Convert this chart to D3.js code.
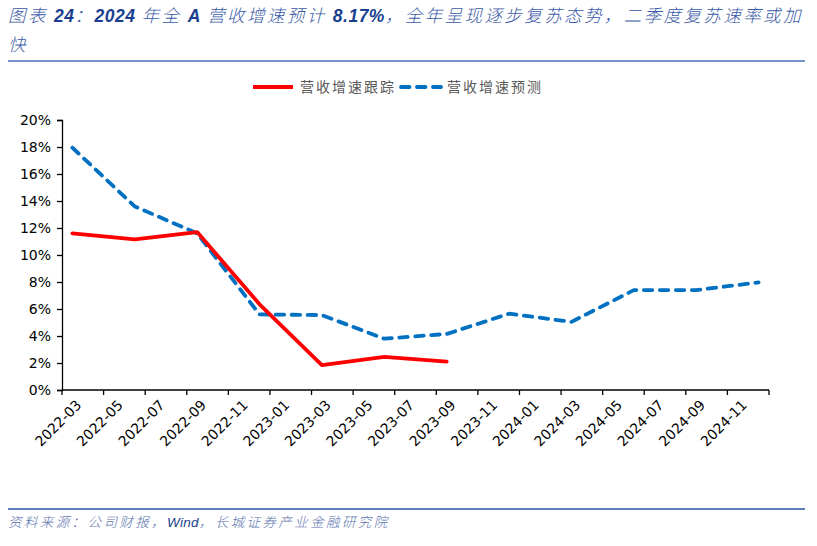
<!DOCTYPE html>
<html><head><meta charset="utf-8">
<script src="https://cdn.jsdelivr.net/npm/d3@7/dist/d3.min.js"></script>
<style>body{margin:0;background:#fff}svg{display:block}</style>
</head><body><svg id="c" width="817" height="546"></svg>
<script>
// months on the axis (date axis, monthly base unit)
const months = [];
for (let y = 2022; y <= 2024; y++) for (let m = 1; m <= 12; m++) {
  if (y === 2022 && m < 3) continue;
  months.push(y + "-" + String(m).padStart(2, "0"));
}
const tickLabels = ["2022-03","2022-05","2022-07","2022-09","2022-11","2023-01","2023-03","2023-05","2023-07","2023-09","2023-11","2024-01","2024-03","2024-05","2024-07","2024-09","2024-11"];
const trackDates = ["2022-03","2022-06","2022-09","2022-12","2023-03","2023-06","2023-09"];
const trackValues = [11.6, 11.15, 11.7, 6.35, 1.85, 2.45, 2.1];
const fcDates = ["2022-03","2022-06","2022-09","2022-12","2023-03","2023-06","2023-09","2023-12","2024-03","2024-06","2024-09","2024-12"];
const fcValues = [17.95, 13.6, 11.6, 5.6, 5.55, 3.8, 4.15, 5.65, 5.05, 7.4, 7.4, 7.97];
const yTicks = [0,2,4,6,8,10,12,14,16,18,20];
const seriesNames = ["营收增速跟踪", "营收增速预测"];

const svg = d3.select("#c");
const L = 62, R = 769, T = 120, B = 390;
const x = d3.scaleBand().domain(months).range([L, R]).padding(0);
const y = d3.scaleLinear().domain([0, 20]).range([B, T]);
const cx = d => x(d) + x.bandwidth() / 2;

// Title
const title = svg.append("text").attr("x", 8).attr("y", 22)
  .attr("font-family", "'Noto Sans CJK SC', sans-serif").attr("font-size", 17.5)
  .attr("font-style", "italic").attr("font-weight", 300).attr("fill", "#3a5aa6")
  .attr("letter-spacing", 2.4);
const parts = [["图表 ",0],["24",1],["：",0],["2024",1],[" 年全 ",0],["A",1],[" 营收增速预计 ",0],["8.17%",1],["，全年呈现逐步复苏态势，二季度复苏速率或加",0]];
parts.forEach(([t, b]) => {
  const ts = title.append("tspan").text(t);
  if (b) ts.attr("font-family", "'Liberation Sans', Arial, sans-serif").attr("font-weight", "bold").attr("fill", "#1a3f8f").attr("letter-spacing", 0.5);
});
svg.append("text").attr("x", 8).attr("y", 51)
  .attr("font-family", "'Noto Sans CJK SC', sans-serif").attr("font-size", 17.5)
  .attr("font-style", "italic").attr("font-weight", 300).attr("fill", "#3a5aa6").text("快");
svg.append("line").attr("x1", 8).attr("x2", 805).attr("y1", 61).attr("y2", 61)
  .attr("stroke", "#4a6fb5").attr("stroke-width", 1.5);

// Footer
svg.append("line").attr("x1", 8).attr("x2", 805).attr("y1", 509).attr("y2", 509)
  .attr("stroke", "#2a529e").attr("stroke-width", 1.5);
const foot = svg.append("text").attr("x", 8).attr("y", 527)
  .attr("font-family", "'Noto Sans CJK SC', sans-serif").attr("font-size", 13.5)
  .attr("font-style", "italic").attr("font-weight", 300).attr("fill", "#5a74ad").attr("letter-spacing", 2.4);
foot.append("tspan").text("资料来源：公司财报，");
foot.append("tspan").text("Wind").attr("font-family", "'Liberation Sans', Arial, sans-serif").attr("font-weight", "normal").attr("fill", "#1a3f8f").attr("letter-spacing", 0.3);
foot.append("tspan").text("，长城证券产业金融研究院");

// Axes
const yAxis = d3.axisLeft(y).tickValues(yTicks).tickFormat(d => d + "%").tickSize(5).tickPadding(6);
const gy = svg.append("g").attr("transform", `translate(${L},0)`).call(yAxis);
gy.select(".domain").attr("stroke", "#000").attr("stroke-width", 1.3);
gy.selectAll(".tick line").attr("stroke", "#000").attr("stroke-width", 1.3);
gy.selectAll("text").attr("font-family", "'DejaVu Sans', Verdana, sans-serif").attr("font-size", 14).attr("fill", "#000");

// x axis: ticks at every other month boundary, plus end
const tickPos = tickLabels.map(d => x(d)).concat([R]);
const gx = svg.append("g");
gx.append("line").attr("x1", L).attr("x2", R).attr("y1", B).attr("y2", B).attr("stroke", "#000").attr("stroke-width", 1.3);
gx.selectAll("line.t").data(tickPos).enter().append("line").attr("class", "t")
  .attr("x1", d => d).attr("x2", d => d).attr("y1", B).attr("y2", B + 5)
  .attr("stroke", "#000").attr("stroke-width", 1.3);
gx.selectAll("text").data(tickLabels).enter().append("text")
  .attr("transform", d => `translate(${cx(d) + 3},${B + 9}) rotate(-45)`)
  .attr("text-anchor", "end").attr("dy", "0.7em")
  .attr("font-family", "'DejaVu Sans', Verdana, sans-serif").attr("font-size", 14).attr("fill", "#000")
  .text(d => d);

// Lines
const line = d3.line().x(d => cx(d[0])).y(d => y(d[1]));
svg.append("path").datum(fcDates.map((d, i) => [d, fcValues[i]]))
  .attr("d", line).attr("fill", "none").attr("stroke", "#0070c0").attr("stroke-width", 3.8)
  .attr("stroke-dasharray", "8.5,7.5").attr("stroke-linecap", "round").attr("stroke-linejoin", "round");
svg.append("path").datum(trackDates.map((d, i) => [d, trackValues[i]]))
  .attr("d", line).attr("fill", "none").attr("stroke", "#ff0000").attr("stroke-width", 3.8)
  .attr("stroke-linejoin", "round").attr("stroke-linecap", "round");

// Legend
const lg = svg.append("g").attr("font-family", "'Noto Sans CJK SC', sans-serif").attr("font-size", 14).attr("fill", "#595959").attr("letter-spacing", 2);
lg.append("line").attr("x1", 253).attr("x2", 293).attr("y1", 87).attr("y2", 87).attr("stroke", "#ff0000").attr("stroke-width", 3.8);
lg.append("text").attr("x", 300).attr("y", 92).text(seriesNames[0]);
lg.append("line").attr("x1", 401).attr("x2", 441).attr("y1", 87).attr("y2", 87).attr("stroke", "#0070c0").attr("stroke-width", 3.8)
  .attr("stroke-dasharray", "8.5,7.5").attr("stroke-linecap", "round");
lg.append("text").attr("x", 447).attr("y", 92).text(seriesNames[1]);
</script></body></html>
